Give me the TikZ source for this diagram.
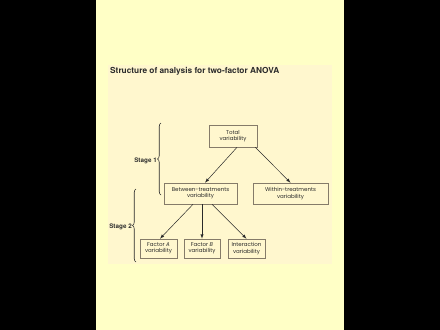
\documentclass[tikz,border=0pt]{standalone}
\usepackage{fontspec}
\setmainfont{TeX Gyre Heros}
\newfontfamily\boxfont{Poppins}
\usetikzlibrary{positioning,calc,decorations.pathreplacing}
\definecolor{pagebg}{HTML}{FFFFC6}
\definecolor{panelbg}{HTML}{FFF7CE}
\definecolor{boxline}{HTML}{857B69}
\definecolor{ink}{HTML}{2A2A2A}

\begin{document}
\begin{tikzpicture}[x=1pt,y=-1pt,every node/.style={inner sep=1pt}]
\tikzstyle{arrow}=[draw,-latex,ink,line width=0.5pt]
\tikzstyle{box}=[draw=boxline,line width=0.6pt,align=center,text=ink,font=\boxfont\fontsize{5.5}{6.3}\selectfont,minimum height=19pt]
\tikzstyle{stage}=[text=ink,font=\bfseries\fontsize{6.3}{7}\selectfont]
\tikzstyle{bracket}=[draw=ink,line width=0.6pt,decorate,decoration={brace,amplitude=3.5pt}]
\fill[black] (0,0) rectangle (440,330);
\fill[pagebg] (96,0) rectangle (344,330);
\fill[panelbg] (108,65) rectangle (332,264);
\useasboundingbox (0,0) rectangle (440,330);

\node[anchor=west,text=ink,font=\bfseries\fontsize{8.3}{9}\selectfont](title) at (109,71){Structure of analysis for two-factor ANOVA};

\node[box,minimum width=48pt,minimum height=22pt](n00) at (233,136){Total\\variability};

\node[box,minimum width=73pt,minimum height=21pt](n10) at (200.5,193.5){Between-treatments\\variability};
\node[box,minimum width=75pt,minimum height=21pt](n11) at (290.5,193.5){Within-treatments\\variability};

\node[box,minimum width=37pt](n20) at (158.5,248.5){Factor \textit{A}\\variability};
\node[box,minimum width=36pt](n21) at (202,248.5){Factor \textit{B}\\variability};
\node[box,minimum width=37pt](n22) at (246.5,248.5){Interaction\\variability};

\path[arrow] ([xshift=4pt]n00.south) -- ([xshift=4.5pt]n10.north);
\path[arrow] ([xshift=-2pt]n00.south east) -- (n11.north);
\path[arrow] ([xshift=-7.5pt]n10.south) -- ([xshift=1.5pt]n20.north);
\path[arrow] ([xshift=1.5pt]n10.south) -- (n21.north);
\path[arrow] ([xshift=11.5pt]n10.south) -- (n22.north);

% stages
\coordinate (b1top) at (161,123);
\coordinate (b1bot) at (161,195);
\coordinate (b2top) at (136,189);
\coordinate (b2bot) at (136,262);
\draw[bracket] (b1bot) -- (b1top);
\draw[bracket] (b2bot) -- (b2top);
\node[stage,anchor=east](s1) at ([xshift=-3pt]$(b1top)!0.53!(b1bot)$){Stage 1};
\node[stage,anchor=east](s2) at ([xshift=-3pt]$(b2top)!0.52!(b2bot)$){Stage 2};
\end{tikzpicture}
\end{document}
